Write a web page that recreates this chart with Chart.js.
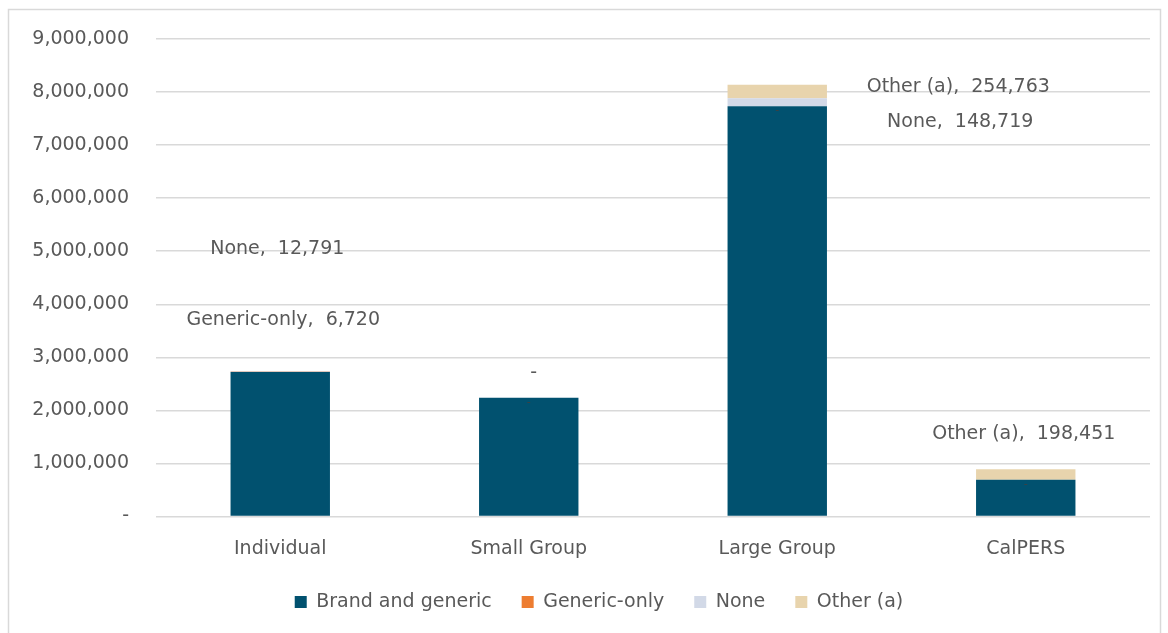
<!DOCTYPE html>
<html>
<head>
<meta charset="utf-8">
<script src="https://cdn.jsdelivr.net/npm/chart.js@4.4.0/dist/chart.umd.min.js"></script>
<style>
    html, body { margin: 0; padding: 0; background: #fff; }
    #wrap { position: relative; width: 1168px; height: 633px; }
</style>
</head>
<body>
<div id="wrap"><canvas id="chart"></canvas></div>
<script>

// DATA PART

var categories = ['Individual', 'Small Group', 'Large Group', 'CalPERS'];
var seriesNames = ['Brand and generic', 'Generic-only', 'None', 'Other (a)'];
var brandGeneric = [2722000, 2240000, 7733000, 692000];
var genericOnly = [6720, 0, 0, 0];
var noneCov = [12791, 0, 148719, 0];
var otherCov = [0, 0, 254763, 198451];
var yTicks = [0, 1000000, 2000000, 3000000, 4000000, 5000000, 6000000, 7000000, 8000000, 9000000];

// labels placed by hand in the original (series, category, value height, x shift)
var labelSeries = [2, 1, 2, 3, 2, 3];
var labelCategory = [0, 0, 1, 2, 2, 3];
var labelHeight = [5040000, 3700000, 2700000, 8090000, 7430000, 1550000];
var labelShift = [-3, 3, 5, 181, 183, -2];

// STYLE PART

var colors = ['#01516f', '#ed7d31', '#d2d9e7', '#e8d4ad'];
var textColor = '#595959';
var fontFamily = '"DejaVu Sans", sans-serif';

function fmt(v){
    if(v === 0){
        return '-';
    }
    return v.toLocaleString('en-US');
}

// PLUGINS PART

var framePlugin = {
    id: 'frame',
    beforeDraw: (chart) => {
        var ctx = chart.ctx;
        ctx.save();
        ctx.fillStyle = '#fff';
        ctx.fillRect(0, 0, chart.width, chart.height);
        ctx.strokeStyle = '#d9d9d9';
        ctx.lineWidth = 1.5;
        ctx.strokeRect(8.5, 9.5, 1152, 640);
        ctx.restore();
    }
};

// legend sits a bit right of the canvas centre in the original
var legendShift = {
    id: 'legendShift',
    afterLayout: (chart) => {
        chart.legend.left += 48;
    }
};

var labelPlugin = {
    id: 'labels',
    afterDatasetsDraw: (chart) => {
        var ctx = chart.ctx;
        var yScale = chart.scales.y;
        ctx.save();
        ctx.textAlign = 'center';
        ctx.textBaseline = 'middle';

        // tiny dashes for empty generic-only segments
        ctx.font = '11px ' + fontFamily;
        ctx.fillStyle = '#404040';
        var meta1 = chart.getDatasetMeta(1);
        genericOnly.forEach((v, i) => {
            if(v === 0){
                var el = meta1.data[i];
                ctx.fillText('-', el.x, el.y + 4);
            }
        });

        // hand placed labels
        ctx.font = '19px ' + fontFamily;
        ctx.fillStyle = textColor;
        labelSeries.forEach((s, k) => {
            var c = labelCategory[k];
            var val = chart.data.datasets[s].data[c];
            var bar = chart.getDatasetMeta(s).data[c];
            var txt = val === 0 ? '-' : seriesNames[s] + ',  ' + fmt(val);
            ctx.fillText(txt, bar.x + labelShift[k], yScale.getPixelForValue(labelHeight[k]));
        });
        ctx.restore();
    }
};

// CHART PART

var allSeries = [brandGeneric, genericOnly, noneCov, otherCov];
var datasets = [];
allSeries.forEach((d, i) => {
    datasets.push({
        label: seriesNames[i],
        data: d,
        backgroundColor: colors[i],
        borderWidth: 0,
        barPercentage: 0.4,
        categoryPercentage: 1.0
    });
});

var ctx = document.getElementById('chart').getContext('2d');
var myChart = new Chart(ctx, {
    type: 'bar',
    data: {
        labels: categories,
        datasets: datasets
    },
    options: {
        responsive: true,
        maintainAspectRatio: false,
        animation: false,
        layout: {
            padding: { left: 0, right: 18, top: 39, bottom: 11.5 }
        },
        plugins: {
            legend: {
                position: 'bottom',
                labels: {
                    boxWidth: 12,
                    boxHeight: 12,
                    padding: 30,
                    color: textColor,
                    font: { family: fontFamily, size: 19 }
                }
            },
            tooltip: { enabled: false }
        },
        scales: {
            x: {
                stacked: true,
                afterFit: (scale) => {
                    scale.height = 46;
                },
                grid: { display: false, drawTicks: false },
                border: { display: false },
                ticks: {
                    padding: 21,
                    color: textColor,
                    font: { family: fontFamily, size: 19 }
                }
            },
            y: {
                stacked: true,
                min: 0,
                max: 9000000,
                afterFit: (scale) => {
                    scale.width = 156;
                },
                afterBuildTicks: (scale) => {
                    scale.ticks = yTicks.map(v => ({ value: v }));
                },
                grid: { color: '#d9d9d9', lineWidth: 1.5, drawTicks: false },
                border: { display: false },
                ticks: {
                    padding: 27,
                    color: textColor,
                    font: { family: fontFamily, size: 19 },
                    callback: (v) => fmt(v)
                }
            }
        }
    },
    plugins: [framePlugin, legendShift, labelPlugin]
});

</script>
</body>
</html>
